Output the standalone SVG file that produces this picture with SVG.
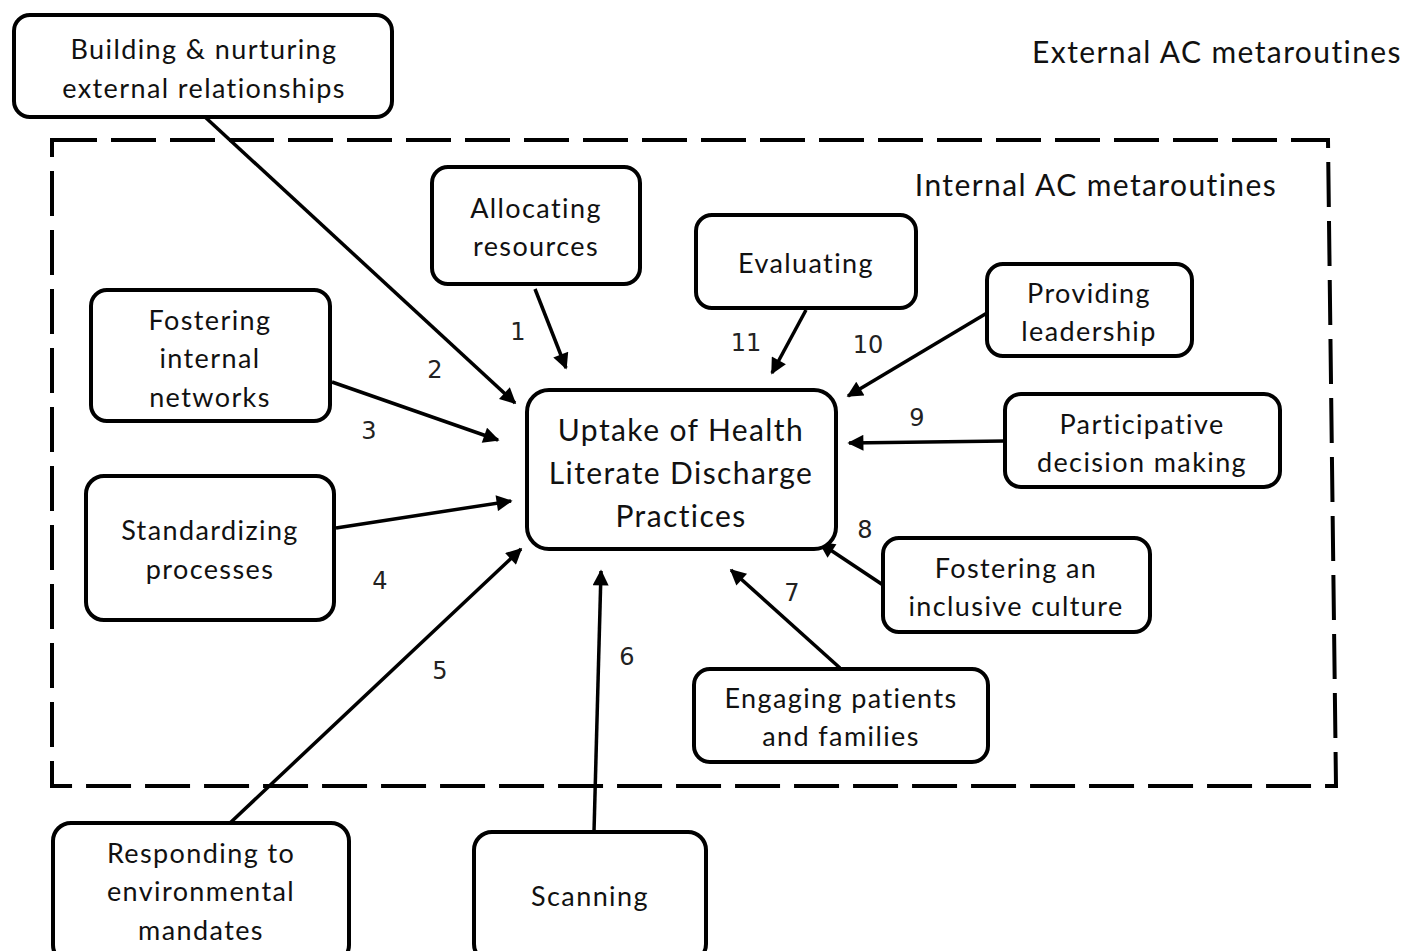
<svg xmlns="http://www.w3.org/2000/svg" width="1407" height="951" viewBox="0 0 1407 951">
<style>
.box{fill:#fff;stroke:#000;stroke-width:4}
.t{font-family:Lato,"Open Sans",sans-serif;font-size:27px;letter-spacing:1.4px;fill:#111;text-anchor:middle;dominant-baseline:central}
.tc{font-size:30px;letter-spacing:1.4px}
.hd{font-family:Lato,"Open Sans",sans-serif;font-size:30px;letter-spacing:1.4px;fill:#111;text-anchor:middle;dominant-baseline:central}
.n{font-family:"DejaVu Sans",sans-serif;font-size:24px;fill:#222;text-anchor:middle;dominant-baseline:central}
.c{stroke:#000;stroke-width:3.5;fill:none;marker-end:url(#ah)}
</style>
<defs>
<marker id="ah" viewBox="0 0 10 10" refX="9" refY="5" markerWidth="18" markerHeight="16" markerUnits="userSpaceOnUse" orient="auto">
<path d="M0,0 L10,5 L0,10 z" fill="#000"/>
</marker>
</defs>
<rect width="1407" height="951" fill="#fff"/>
<g id="boundary">
<path d="M52,140 L1328,140 L1336,786 L52,786 Z" fill="none" stroke="#000" stroke-width="4" stroke-dasharray="45,14"/>
</g>
<text class="hd" x="1217" y="51">External AC metaroutines</text>
<text class="hd" x="1096" y="184">Internal AC metaroutines</text>
<g id="connectors">
<line class="c" x1="205" y1="117" x2="515" y2="403"/>
<line class="c" x1="535" y1="289" x2="566" y2="368"/>
<line class="c" x1="332" y1="382" x2="498" y2="440"/>
<line class="c" x1="336" y1="528" x2="511" y2="501"/>
<line class="c" x1="230" y1="823" x2="521" y2="549"/>
<line class="c" x1="594" y1="832" x2="601" y2="571"/>
<line class="c" x1="840" y1="668" x2="731" y2="570"/>
<line class="c" x1="883" y1="585" x2="820" y2="543"/>
<line class="c" x1="1005" y1="441" x2="849" y2="443"/>
<line class="c" x1="987" y1="313" x2="848" y2="396"/>
<line class="c" x1="806" y1="310" x2="772" y2="373"/>
<text class="n" x="435" y="370">2</text>
<text class="n" x="518" y="332">1</text>
<text class="n" x="369" y="431">3</text>
<text class="n" x="380" y="581">4</text>
<text class="n" x="440" y="671">5</text>
<text class="n" x="627" y="657">6</text>
<text class="n" x="792" y="593">7</text>
<text class="n" x="865" y="530">8</text>
<text class="n" x="917" y="418">9</text>
<text class="n" x="868" y="345">10</text>
<text class="n" x="746" y="343">11</text>
</g>
<g id="n-building">
<rect class="box" x="14" y="15" width="378" height="102" rx="16"/>
<text class="t" x="204" y="48">Building &amp; nurturing</text>
<text class="t" x="204" y="87">external relationships</text>
</g>
<g id="n-allocating">
<rect class="box" x="432" y="167" width="208" height="117" rx="16"/>
<text class="t" x="536" y="207">Allocating</text>
<text class="t" x="536" y="245">resources</text>
</g>
<g id="n-evaluating">
<rect class="box" x="696" y="215" width="220" height="93" rx="16"/>
<text class="t" x="806" y="262">Evaluating</text>
</g>
<g id="n-leadership">
<rect class="box" x="987" y="264" width="205" height="92" rx="16"/>
<text class="t" x="1089" y="292">Providing</text>
<text class="t" x="1089" y="330">leadership</text>
</g>
<g id="n-networks">
<rect class="box" x="91" y="290" width="239" height="131" rx="16"/>
<text class="t" x="210" y="319">Fostering</text>
<text class="t" x="210" y="357">internal</text>
<text class="t" x="210" y="396">networks</text>
</g>
<g id="n-participative">
<rect class="box" x="1005" y="394" width="275" height="93" rx="16"/>
<text class="t" x="1142" y="423">Participative</text>
<text class="t" x="1142" y="461">decision making</text>
</g>
<g id="n-uptake">
<rect class="box" x="527" y="390" width="309" height="159" rx="22"/>
<text class="t tc" x="681" y="429">Uptake of Health</text>
<text class="t tc" x="681" y="472">Literate Discharge</text>
<text class="t tc" x="681" y="515">Practices</text>
</g>
<g id="n-standardizing">
<rect class="box" x="86" y="476" width="248" height="144" rx="18"/>
<text class="t" x="210" y="529">Standardizing</text>
<text class="t" x="210" y="568">processes</text>
</g>
<g id="n-inclusive">
<rect class="box" x="883" y="538" width="267" height="94" rx="16"/>
<text class="t" x="1016" y="567">Fostering an</text>
<text class="t" x="1016" y="605">inclusive culture</text>
</g>
<g id="n-engaging">
<rect class="box" x="694" y="669" width="294" height="93" rx="16"/>
<text class="t" x="841" y="697">Engaging patients</text>
<text class="t" x="841" y="735">and families</text>
</g>
<g id="n-responding">
<rect class="box" x="53" y="823" width="296" height="140" rx="18"/>
<text class="t" x="201" y="852">Responding to</text>
<text class="t" x="201" y="890">environmental</text>
<text class="t" x="201" y="929">mandates</text>
</g>
<g id="n-scanning">
<rect class="box" x="474" y="832" width="232" height="130" rx="18"/>
<text class="t" x="590" y="895">Scanning</text>
</g>
</svg>
